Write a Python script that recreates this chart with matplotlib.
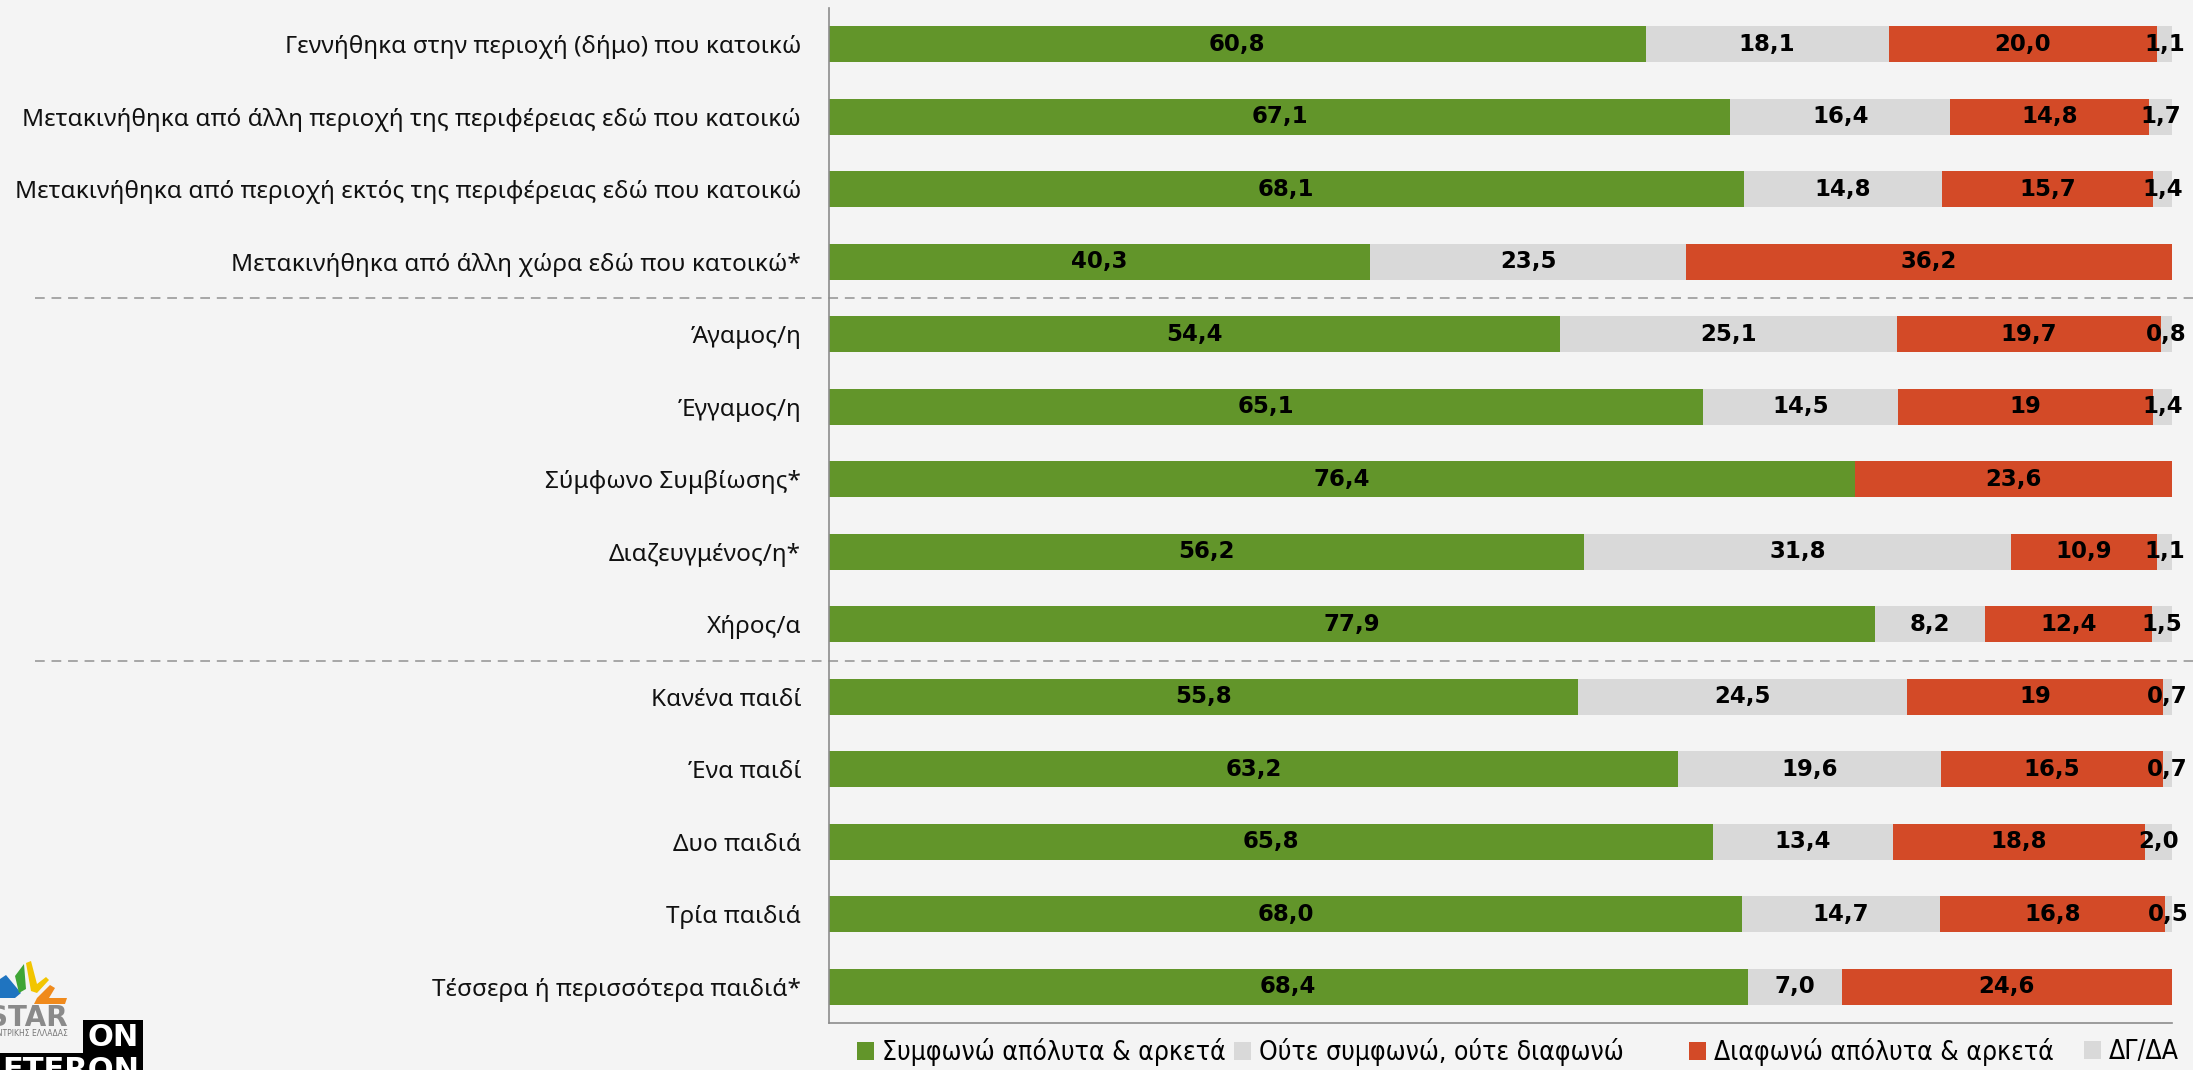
import matplotlib
matplotlib.use("Agg")
import matplotlib.pyplot as plt
from matplotlib import font_manager
from matplotlib.patches import Patch, Polygon, Rectangle
from matplotlib.transforms import blended_transform_factory

# ---- data -------------------------------------------------------------
categories = [
    "Γεννήθηκα στην περιοχή (δήμο) που κατοικώ",
    "Μετακινήθηκα από άλλη περιοχή της περιφέρειας εδώ που κατοικώ",
    "Μετακινήθηκα από περιοχή εκτός της περιφέρειας εδώ που κατοικώ",
    "Μετακινήθηκα από άλλη χώρα εδώ που κατοικώ*",
    "Άγαμος/η",
    "Έγγαμος/η",
    "Σύμφωνο Συμβίωσης*",
    "Διαζευγμένος/η*",
    "Χήρος/α",
    "Κανένα παιδί",
    "Ένα παιδί",
    "Δυο παιδιά",
    "Τρία παιδιά",
    "Τέσσερα ή περισσότερα παιδιά*",
]

# values as printed (decimal comma); empty string = no answer in that group
agree = ["60,8", "67,1", "68,1", "40,3", "54,4", "65,1", "76,4",
         "56,2", "77,9", "55,8", "63,2", "65,8", "68,0", "68,4"]
neutral = ["18,1", "16,4", "14,8", "23,5", "25,1", "14,5", "",
           "31,8", "8,2", "24,5", "19,6", "13,4", "14,7", "7,0"]
disagree = ["20,0", "14,8", "15,7", "36,2", "19,7", "19", "23,6",
            "10,9", "12,4", "19", "16,5", "18,8", "16,8", "24,6"]
dkna = ["1,1", "1,7", "1,4", "", "0,8", "1,4", "",
        "1,1", "1,5", "0,7", "0,7", "2,0", "0,5", ""]

series_names = ["Συμφωνώ απόλυτα & αρκετά", "Ούτε συμφωνώ, ούτε διαφωνώ",
                "Διαφωνώ απόλυτα & αρκετά", "ΔΓ/ΔΑ"]
series_colors = ["#62952A", "#D9D9D9", "#D34A27", "#D9D9D9"]

# group separators sit after these row indices
separators_after = [3, 8]


def to_num(s):
    return float(s.replace(",", ".")) if s else 0.0


# ---- figure -----------------------------------------------------------
W, H = 2193, 1070
BG = "#F4F4F4"
fig = plt.figure(figsize=(W / 100, H / 100), dpi=100, facecolor=BG)
ax = fig.add_axes([829 / W, 1 - 1023 / H, (2172 - 829) / W, (1023 - 8) / H])
ax.set_facecolor(BG)

rows = list(range(len(categories)))
left = [0.0] * len(rows)
for name, color, col in zip(series_names, series_colors,
                            [agree, neutral, disagree, dkna]):
    vals = [to_num(v) for v in col]
    ax.barh(rows, vals, left=left, height=0.5, color=color,
            edgecolor="none", label=name)
    for r, (v, txt, l) in enumerate(zip(vals, col, left)):
        if txt:
            ax.text(l + v / 2, r, txt, ha="center", va="center",
                    fontsize=16.5, fontweight="bold", color="black",
                    family="DejaVu Sans", clip_on=False)
    left = [a + b for a, b in zip(left, vals)]

ax.set_xlim(0, 100)
ax.set_ylim(len(rows) - 0.5, -0.5)
ax.set_yticks(rows)
ax.set_yticklabels(categories, fontsize=17.5,
                   family=["Noto Sans", "DejaVu Sans"], color="#111111")
ax.set_xticks([])
ax.tick_params(axis="y", length=0, pad=20)
for s in ("top", "right"):
    ax.spines[s].set_visible(False)
for s in ("left", "bottom"):
    ax.spines[s].set_color("#8C8C8C")
    ax.spines[s].set_linewidth(1.2)

# dashed group separators spanning from the labels to the right edge
tr = blended_transform_factory(fig.transFigure, ax.transData)
for r in separators_after:
    ax.plot([35 / W, 1.0], [r + 0.5, r + 0.5], transform=tr,
            color="#A6A6A6", lw=1.4, ls=(0, (5, 3.5)), clip_on=False)

# ---- legend -----------------------------------------------------------
names = {f.name for f in font_manager.fontManager.ttflist}
legend_font = {"family": "DejaVu Sans", "size": 18}
if "Liberation Sans Narrow" in names:
    legend_font = {"family": "Liberation Sans Narrow", "size": 21}
elif any(f.name == "DejaVu Sans" and f.stretch == "condensed"
         for f in font_manager.fontManager.ttflist):
    legend_font = {"family": "DejaVu Sans", "stretch": "condensed",
                   "size": 19}
# one legend entry per series, each anchored at its own marker position
legend_x = [857, 1234, 1689, 2084]
for name, color, x in zip(series_names, series_colors, legend_x):
    fig.legend([Patch(facecolor=color, edgecolor="none")], [name],
               loc="center left", bbox_to_anchor=(x / W, 1 - 1052 / H),
               frameon=False, prop=font_manager.FontProperties(**legend_font),
               handlelength=0.65, handleheight=0.65, handletextpad=0.3,
               borderpad=0, borderaxespad=0)


# ---- logo (bottom left) -------------------------------------------------
def px(x, y):
    return (x / W, 1 - y / H)


logo_shapes = [
    ("#1F74C0", [(0, 979), (6, 975), (21, 993), (15, 998), (0, 998)]),
    ("#3FA535", [(15, 976), (24, 964), (26, 989), (19, 993)]),
    ("#F2C500", [(26, 963), (31, 961), (37, 984), (46, 977), (49, 980),
                 (37, 993), (31, 991)]),
    ("#F08A1C", [(50, 985), (55, 988), (49, 998), (67, 998), (65, 1004),
                 (34, 1004), (37, 998)]),
]
for color, pts in logo_shapes:
    fig.patches.append(Polygon([px(*p) for p in pts], closed=True,
                               facecolor=color, edgecolor="none",
                               transform=fig.transFigure, figure=fig))
fig.text(*px(68, 1018), "STAR", ha="right", va="center", fontsize=20,
         fontweight="bold", color="#8A8A8A", family="DejaVu Sans")
fig.text(*px(68, 1034), "ΚΕΝΤΡΙΚΗΣ ΕΛΛΑΔΑΣ", ha="right", va="center",
         fontsize=5.5, color="#777777", family="DejaVu Sans")
for x0, y0, x1, y1 in [(83, 1020, 143, 1070), (0, 1053, 143, 1070)]:
    fig.patches.append(Rectangle(px(x0, y1), (x1 - x0) / W, (y1 - y0) / H,
                                 facecolor="black", edgecolor="none",
                                 transform=fig.transFigure, figure=fig))
fig.text(*px(113, 1037), "ON", ha="center", va="center", fontsize=22,
         fontweight="bold", color="white", family="DejaVu Sans")
fig.text(*px(71, 1056), "ETERON", ha="center", va="top", fontsize=22,
         fontweight="bold", color="white", family="DejaVu Sans")

fig.savefig("out.png", dpi=100, facecolor=BG)
